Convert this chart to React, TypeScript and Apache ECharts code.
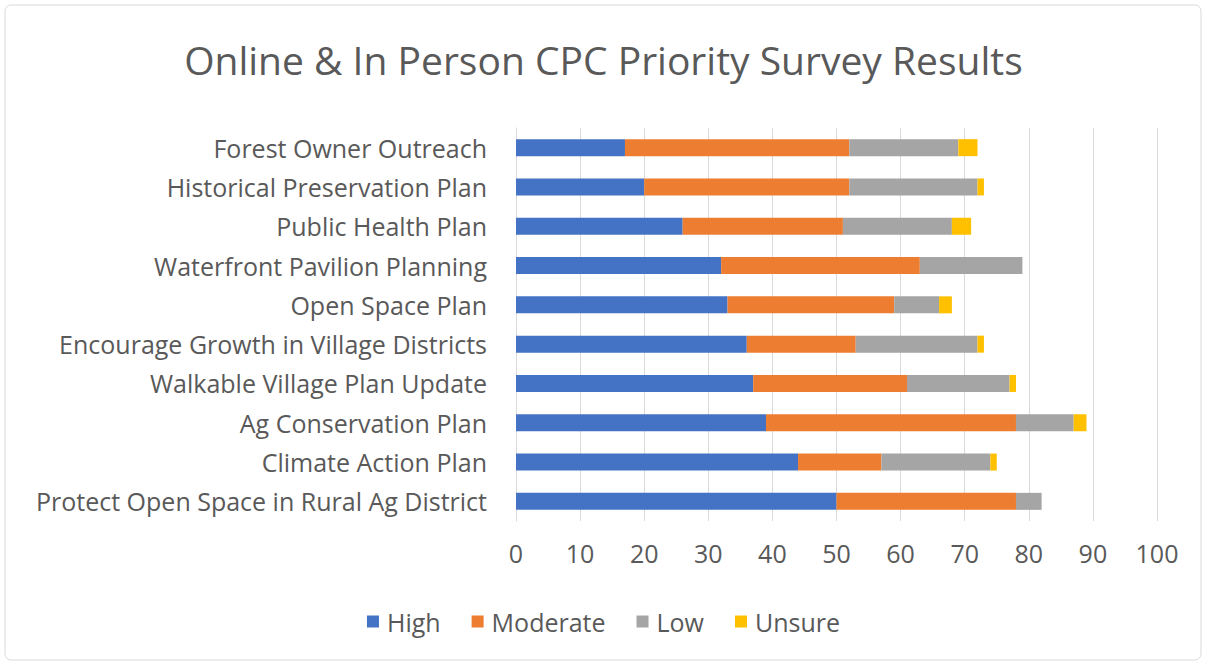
import React, { useEffect, useRef } from "react";
import * as echarts from "echarts";

const categories = [
  "Forest Owner Outreach",
  "Historical Preservation Plan",
  "Public Health Plan",
  "Waterfront Pavilion Planning",
  "Open Space Plan",
  "Encourage Growth in Village Districts",
  "Walkable Village Plan Update",
  "Ag Conservation Plan",
  "Climate Action Plan",
  "Protect Open Space in Rural Ag District",
];
const high = [17, 20, 26, 32, 33, 36, 37, 39, 44, 50];
const moderate = [35, 32, 25, 31, 26, 17, 24, 39, 13, 28];
const low = [17, 20, 17, 16, 7, 19, 16, 9, 17, 4];
const unsure = [3, 1, 3, 0, 2, 1, 1, 2, 1, 0];
const xTicks = [0, 100, 10];

const FONT = "Open Sans";
const TXT = "#595959";

export default function App() {
  const ref = useRef<HTMLDivElement>(null);
  useEffect(() => {
    const chart = echarts.init(ref.current!, null, { renderer: "svg" });
    const mk = (name: string, data: number[], color: string) => ({
      name,
      type: "bar",
      stack: "total",
      data,
      barWidth: 17,
      itemStyle: { color },
    });
    chart.setOption({
      animation: false,
      textStyle: { fontFamily: FONT },
      title: {
        text: "Online & In Person CPC Priority Survey Results",
        left: "center",
        top: 35,
        textStyle: { fontFamily: FONT, fontSize: 39, fontWeight: "normal", color: TXT },
      },
      graphic: [
        {
          type: "rect",
          shape: { x: 5, y: 5, width: 1196, height: 655, r: 6 },
          style: { fill: "none", stroke: "#d9d9d9", lineWidth: 1 },
        },
      ],
      legend: {
        top: 604,
        left: "center",
        itemWidth: 12,
        itemHeight: 12,
        itemGap: 31,
        icon: "rect",
        textStyle: { fontFamily: FONT, fontSize: 25, color: TXT, padding: [0, 0, 0, 3] },
        data: ["High", "Moderate", "Low", "Unsure"],
      },
      grid: { left: 516, top: 128, width: 641, height: 393, containLabel: false },
      xAxis: {
        type: "value",
        min: xTicks[0],
        max: xTicks[1],
        interval: xTicks[2],
        axisLine: { show: false },
        axisTick: { show: false },
        splitLine: { show: true, lineStyle: { color: "#d9d9d9", width: 1 } },
        axisLabel: { fontFamily: FONT, fontSize: 25, color: TXT, margin: 19 },
      },
      yAxis: {
        type: "category",
        inverse: true,
        data: categories,
        axisLine: { show: true, lineStyle: { color: "#d9d9d9" } },
        axisTick: { show: false },
        axisLabel: { fontFamily: FONT, fontSize: 25, color: TXT, margin: 29 },
      },
      series: [
        mk("High", high, "#4472c4"),
        mk("Moderate", moderate, "#ed7d31"),
        mk("Low", low, "#a5a5a5"),
        mk("Unsure", unsure, "#ffc000"),
      ],
    });
    return () => chart.dispose();
  }, []);
  return (
    <div
      ref={ref}
      style={{ position: "fixed", left: 0, top: 0, width: 1207, height: 667, background: "#fff" }}
    />
  );
}
